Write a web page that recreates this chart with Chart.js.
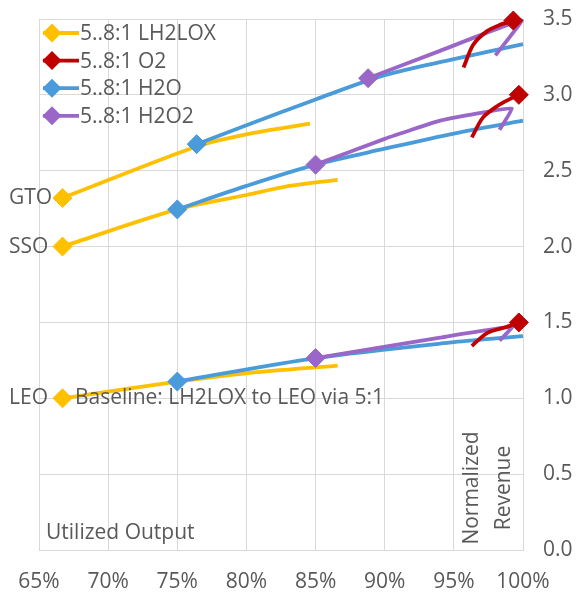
<!DOCTYPE html>
<html>
<head>
<meta charset="utf-8">
<script src="https://cdn.jsdelivr.net/npm/chart.js"></script>
<style>
  html, body { margin: 0; padding: 0; background: #fff; }
  #wrap { position: relative; width: 580px; height: 594px; }
</style>
</head>
<body>
<div id="wrap"><canvas id="myChart" width="580" height="594"></canvas></div>
<script>
// ---- data (x = utilized output %, y = normalized revenue)
const seriesNames = ['5..8:1 LH2LOX', '5..8:1 O2', '5..8:1 H2O', '5..8:1 H2O2'];
const orbitNames = ['LEO', 'SSO', 'GTO'];
const xTickValues = [65, 70, 75, 80, 85, 90, 95, 100];
const yTickValues = [0, 0.5, 1, 1.5, 2, 2.5, 3, 3.5];

const lh2loxLeo = [[66.7, 1.0], [75, 1.11], [80, 1.165], [86.6, 1.215]];
const lh2loxSso = [[66.7, 2.0], [75, 2.245], [80, 2.34], [83.1, 2.40], [86.6, 2.44]];
const lh2loxGto = [[66.7, 2.32], [76.4, 2.66], [80, 2.74], [84.6, 2.81]];

const o2Leo = [[96.3, 1.345], [97.4, 1.43], [98.8, 1.47], [99.7, 1.50]];
const o2Sso = [[96.3, 2.72], [97.1, 2.85], [98.2, 2.93], [99, 2.97], [99.7, 3.0]];
const o2Gto = [[95.7, 3.18], [96.4, 3.33], [97.4, 3.42], [98.3, 3.46], [99.3, 3.49]];

const h2oLeo = [[75, 1.11], [85, 1.265], [95, 1.37], [100, 1.41]];
const h2oSso = [[75, 2.245], [80, 2.40], [85, 2.54], [90, 2.645], [95, 2.745], [100, 2.83]];
const h2oGto = [[76.4, 2.675], [80, 2.80], [85, 2.97], [90, 3.13], [95, 3.235], [100, 3.335]];

const h2o2Leo = [[85, 1.265], [94, 1.40], [99.2, 1.47], [98.3, 1.38]];
const h2o2Sso = [[85, 2.54], [90, 2.71], [94, 2.83], [97.5, 2.89], [99.2, 2.91], [98.3, 2.77]];
const h2o2Gto = [[88.8, 3.11], [94, 3.29], [99.9, 3.49], [98, 3.26]];

const seriesCurves = [
  [lh2loxLeo, lh2loxSso, lh2loxGto],
  [o2Leo, o2Sso, o2Gto],
  [h2oLeo, h2oSso, h2oGto],
  [h2o2Leo, h2o2Sso, h2o2Gto]
];

// ---- styling
const colors = ['#FFC000', '#C00000', '#4A9BDA', '#9A66C8'];
const drawOrder = [4, 1, 3, 2];      // red on top, then purple, blue, yellow
const tensions = [0.3, 0.3, 0.3, 0.12];
const markerAtEnd = [false, true, false, false];
const textColor = '#595959';
const gridColor = '#D9D9D9';
const fontFamily = '"Open Sans", "Liberation Sans", sans-serif';
const fontSize = 21;

let datasets = [];
seriesCurves.forEach((curves, s) => {
  curves.forEach((pts, c) => {
    const markIdx = markerAtEnd[s] ? pts.length - 1 : 0;
    datasets.push({
      label: seriesNames[s] + ' ' + orbitNames[c],
      data: pts.map(p => ({ x: p[0], y: p[1] })),
      borderColor: colors[s],
      backgroundColor: colors[s],
      borderWidth: 3.8,
      tension: tensions[s],
      order: drawOrder[s],
      clip: false,
      pointStyle: 'rectRot',
      pointRadius: ctx => (ctx.dataIndex === markIdx ? 9.5 : 0),
      pointHoverRadius: 0,
      pointBorderWidth: 1
    });
  });
});

// legend + free text drawn on the canvas
const notesPlugin = {
  id: 'notes',
  afterDraw(chart) {
    const ctx = chart.ctx;
    const area = chart.chartArea;
    ctx.save();
    ctx.font = fontSize + 'px ' + fontFamily;
    ctx.fillStyle = textColor;
    ctx.textBaseline = 'middle';

    // legend
    seriesNames.forEach((name, i) => {
      const y = area.top + 14 + i * 27.6;
      ctx.strokeStyle = colors[i];
      ctx.lineWidth = 3.8;
      ctx.beginPath();
      ctx.moveTo(area.left + 4, y);
      ctx.lineTo(area.left + 40, y);
      ctx.stroke();
      ctx.fillStyle = colors[i];
      ctx.beginPath();
      ctx.moveTo(area.left + 13, y - 9.5);
      ctx.lineTo(area.left + 22.5, y);
      ctx.lineTo(area.left + 13, y + 9.5);
      ctx.lineTo(area.left + 3.5, y);
      ctx.closePath();
      ctx.fill();
      ctx.fillStyle = textColor;
      ctx.textAlign = 'left';
      ctx.fillText(name, area.left + 41, y + 1);
    });

    // orbit labels
    const ys = chart.scales.y;
    ctx.textAlign = 'left';
    ctx.fillText('GTO', 9, ys.getPixelForValue(lh2loxGto[0][1]));
    ctx.fillText('SSO', 9, ys.getPixelForValue(lh2loxSso[0][1]));
    ctx.fillText('LEO', 9, ys.getPixelForValue(lh2loxLeo[0][1]));
    ctx.fillText('Baseline: LH2LOX to LEO via 5:1', 75, ys.getPixelForValue(lh2loxLeo[0][1]));
    ctx.fillText('Utilized Output', area.left + 7, area.bottom - 17);

    // rotated y title inside the plot
    ctx.save();
    ctx.translate(area.right - 35, area.bottom - 62);
    ctx.rotate(-Math.PI / 2);
    ctx.textAlign = 'center';
    ctx.fillText('Normalized', 0, -16);
    ctx.fillText('Revenue', 0, 16);
    ctx.restore();

    ctx.restore();
  }
};

let ctx = document.getElementById('myChart').getContext('2d');
let myChart = new Chart(ctx, {
  type: 'line',
  data: { datasets: datasets },
  options: {
    responsive: false,
    animation: false,
    layout: { padding: { left: 39, top: 19 } },
    plugins: { legend: { display: false }, tooltip: { enabled: false } },
    scales: {
      x: {
        type: 'linear',
        min: 65,
        max: 100,
        afterFit: s => { s.height = 44; s.paddingLeft = 0; s.paddingRight = 0; },
        afterBuildTicks: s => { s.ticks = xTickValues.map(v => ({ value: v })); },
        grid: { color: gridColor, drawTicks: false },
        border: { color: gridColor },
        ticks: {
          color: textColor,
          padding: 19,
          font: { size: fontSize, family: fontFamily },
          callback: v => v + '%'
        }
      },
      y: {
        position: 'right',
        min: 0,
        max: 3.5,
        afterFit: s => { s.width = 57; s.paddingTop = 0; s.paddingBottom = 0; },
        afterBuildTicks: s => { s.ticks = yTickValues.map(v => ({ value: v })); },
        grid: { color: gridColor, drawTicks: false },
        border: { color: gridColor },
        ticks: {
          color: textColor,
          padding: 20,
          font: { size: fontSize, family: fontFamily },
          callback: v => v.toFixed(1)
        }
      }
    }
  },
  plugins: [notesPlugin]
});
</script>
</body>
</html>
